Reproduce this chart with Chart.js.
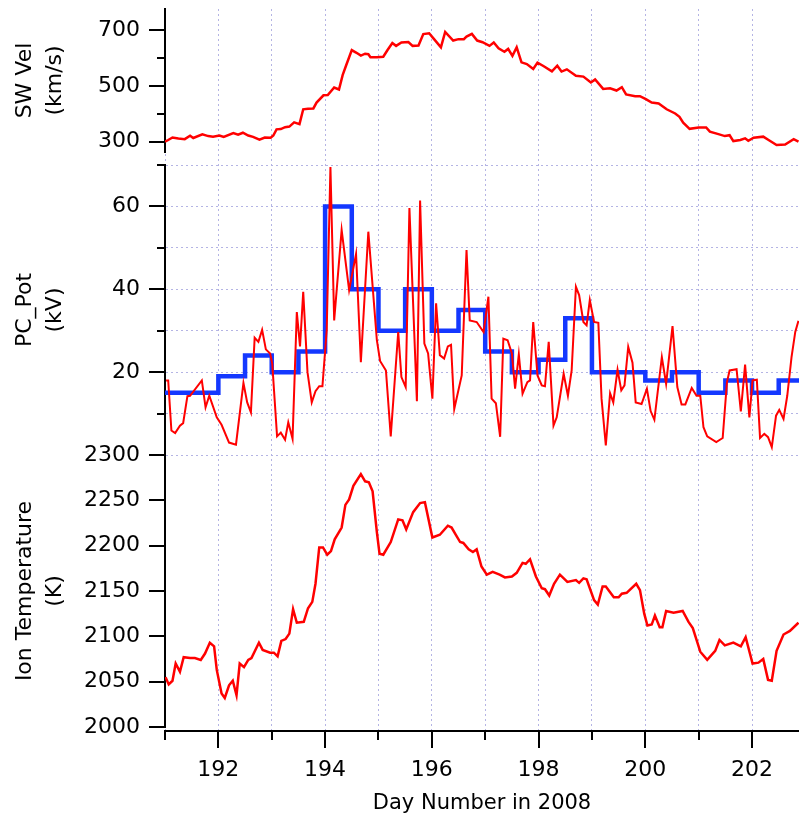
<!DOCTYPE html>
<html>
<head>
<meta charset="utf-8">
<title>SW Vel / PC_Pot / Ion Temperature</title>
<script src="https://cdn.jsdelivr.net/npm/chart.js@4.4.1/dist/chart.umd.min.js"></script>
<style>
    body { margin: 0; background: #fff; overflow: hidden; }
    canvas { display: block; }
</style>
</head>
<body>
<canvas id="chart" width="799" height="815"></canvas>
<script>
// 太阳风速度 (km/s)
const swDay = [191.00, 191.06, 191.14, 191.25, 191.37, 191.47, 191.53, 191.70, 191.81, 191.90,
    192.02, 192.10, 192.28, 192.37, 192.46, 192.56, 192.65, 192.77, 192.87, 192.98,
    193.03, 193.09, 193.17, 193.25, 193.33, 193.42, 193.52, 193.59, 193.68, 193.78,
    193.84, 193.97, 194.05, 194.17, 194.26, 194.33, 194.39, 194.50, 194.58, 194.67,
    194.75, 194.81, 194.85, 194.97, 195.09, 195.17, 195.26, 195.33, 195.43, 195.56,
    195.64, 195.75, 195.84, 195.95, 196.03, 196.17, 196.25, 196.40, 196.50, 196.60,
    196.65, 196.75, 196.85, 196.95, 197.08, 197.16, 197.25, 197.36, 197.43, 197.51,
    197.59, 197.68, 197.78, 197.90, 197.98, 198.09, 198.25, 198.35, 198.43, 198.53,
    198.70, 198.84, 198.98, 199.06, 199.21, 199.34, 199.46, 199.56, 199.64, 199.81,
    199.90, 200.01, 200.12, 200.25, 200.40, 200.56, 200.64, 200.71, 200.83, 201.00,
    201.14, 201.21, 201.37, 201.49, 201.58, 201.65, 201.78, 201.87, 201.93, 202.03,
    202.21, 202.31, 202.46, 202.62, 202.78, 202.87];
const swVel = [300, 306, 315, 311, 309, 321, 313, 326, 320, 318,
    322, 317, 331, 325, 332, 322, 317, 307, 315, 314,
    322, 344, 345, 352, 354, 369, 363, 416, 418, 419,
    440, 466, 467, 494, 487, 539, 571, 628, 619, 608,
    615, 613, 602, 602, 604, 628, 653, 643, 655, 657,
    643, 644, 685, 688, 670, 638, 693, 662, 667, 667,
    676, 686, 662, 656, 643, 655, 634, 622, 632, 607,
    638, 584, 578, 560, 583, 571, 552, 572, 551, 559,
    536, 533, 512, 523, 489, 491, 483, 495, 469, 463,
    463, 452, 440, 437, 416, 401, 389, 368, 346, 351,
    351, 336, 327, 320, 323, 302, 306, 312, 303, 314,
    318, 306, 288, 290, 309, 300];

// 极盖电位 (kV)
const pcDay = [191.02, 191.06, 191.12, 191.19, 191.28, 191.34, 191.42, 191.47, 191.69, 191.76,
    191.83, 191.97, 192.06, 192.20, 192.33, 192.47, 192.54, 192.61, 192.68, 192.75,
    192.82, 192.89, 192.97, 193.01, 193.10, 193.17, 193.25, 193.31, 193.39, 193.47,
    193.53, 193.59, 193.67, 193.75, 193.82, 193.89, 193.95, 194.03, 194.10, 194.17,
    194.31, 194.45, 194.58, 194.67, 194.81, 194.97, 195.03, 195.14, 195.23, 195.37,
    195.43, 195.51, 195.58, 195.72, 195.78, 195.86, 195.93, 196.01, 196.08, 196.15,
    196.23, 196.30, 196.36, 196.42, 196.56, 196.65, 196.71, 196.84, 196.97, 197.06,
    197.12, 197.20, 197.28, 197.34, 197.42, 197.50, 197.56, 197.63, 197.70, 197.79,
    197.84, 197.90, 197.98, 198.06, 198.12, 198.19, 198.28, 198.34, 198.47, 198.55,
    198.62, 198.70, 198.76, 198.84, 198.90, 198.96, 199.04, 199.12, 199.18, 199.26,
    199.34, 199.40, 199.48, 199.55, 199.61, 199.68, 199.76, 199.82, 199.93, 200.03,
    200.10, 200.17, 200.31, 200.39, 200.51, 200.60, 200.68, 200.75, 200.87, 200.96,
    201.03, 201.09, 201.16, 201.33, 201.45, 201.53, 201.58, 201.71, 201.79, 201.87,
    201.95, 202.01, 202.09, 202.15, 202.23, 202.30, 202.37, 202.45, 202.51, 202.59,
    202.66, 202.74, 202.81, 202.87];
const pcPot = [18, 18, 5.9, 5.3, 7.1, 7.7, 14.2, 14.3, 18, 11.5,
    14.3, 9.1, 7.3, 3.0, 2.5, 17.4, 12.7, 10.3, 28.3, 27.3,
    30.2, 25.5, 24.5, 22, 4.5, 5.4, 3.7, 7.9, 3.9, 34.5,
    26.2, 39.4, 20.0, 12.7, 15.4, 16.6, 16.6, 30.1, 69.5, 32.5,
    54.3, 39.8, 48.5, 22.4, 53.9, 27.7, 22.7, 20.4, 4.5, 29.7,
    18.8, 16.4, 59.6, 13.0, 61.4, 26.9, 24.5, 13.6, 36.6, 24.1,
    23.3, 26.2, 26.6, 11.1, 19.2, 49.5, 32.5, 32.1, 29.7, 38.2,
    13.6, 12.5, 4.4, 28.1, 27.7, 24.5, 16.0, 24.3, 14.8, 17.6,
    18.0, 32.1, 19.2, 16.8, 16.6, 27.3, 7.1, 9.1, 19.6, 14.3,
    20.4, 40.6, 38.6, 32.1, 31.3, 37.4, 32.1, 31.9, 13.6, 2.3,
    14.9, 12.7, 20.6, 15.6, 16.8, 26.1, 22.3, 12.7, 12.3, 16.0,
    10.6, 8.5, 23.6, 17.2, 31.1, 16.4, 12.2, 12.2, 16.2, 14.3,
    14.3, 6.7, 4.5, 3.1, 4.1, 17.6, 20.4, 20.7, 10.5, 21.8,
    9.1, 18.0, 18.2, 4.1, 5.1, 4.3, 1.9, 9.5, 10.9, 8.7,
    14.3, 23.6, 29.7, 32.4];

// 半天平均 (阶梯线)
const stepDay = [191.0, 191.5, 192.0, 192.5, 193.0, 193.5, 194.0, 194.5, 195.0, 195.5,
    196.0, 196.5, 197.0, 197.5, 198.0, 198.5, 199.0, 199.5, 200.0, 200.5,
    201.0, 201.5, 202.0, 202.5, 202.88];
const stepPot = [15, 15, 19, 24, 20, 25, 60, 40, 30, 40,
    30, 35, 25, 20, 23, 33, 20, 20, 18, 20,
    15, 18, 15, 18, 18];

// 离子温度 (K)
const tiDay = [191.01, 191.07, 191.14, 191.20, 191.28, 191.35, 191.47, 191.56, 191.67, 191.75,
    191.84, 191.92, 191.97, 192.06, 192.12, 192.20, 192.27, 192.34, 192.40, 192.48,
    192.56, 192.62, 192.76, 192.83, 192.97, 193.04, 193.11, 193.18, 193.26, 193.33,
    193.40, 193.47, 193.60, 193.68, 193.76, 193.82, 193.89, 193.96, 194.04, 194.11,
    194.18, 194.31, 194.38, 194.45, 194.53, 194.67, 194.75, 194.82, 194.89, 194.97,
    195.02, 195.09, 195.23, 195.37, 195.45, 195.52, 195.65, 195.78, 195.87, 196.01,
    196.15, 196.30, 196.37, 196.45, 196.53, 196.59, 196.69, 196.77, 196.84, 196.93,
    197.03, 197.14, 197.27, 197.37, 197.50, 197.59, 197.70, 197.76, 197.84, 197.95,
    198.06, 198.12, 198.20, 198.29, 198.40, 198.54, 198.70, 198.76, 198.84, 198.90,
    199.04, 199.11, 199.20, 199.26, 199.41, 199.50, 199.56, 199.65, 199.83, 199.90,
    199.98, 200.04, 200.12, 200.18, 200.27, 200.32, 200.39, 200.53, 200.70, 200.81,
    200.89, 201.03, 201.16, 201.31, 201.39, 201.49, 201.65, 201.79, 201.88, 202.01,
    202.12, 202.21, 202.30, 202.37, 202.46, 202.59, 202.71, 202.87];
const tiTemp = [2055, 2047, 2051, 2070, 2061, 2077, 2076, 2076, 2074, 2081,
    2093, 2089, 2063, 2037, 2032, 2046, 2051, 2035, 2070, 2066,
    2074, 2076, 2093, 2085, 2082, 2082, 2078, 2095, 2097, 2103,
    2130, 2115, 2116, 2131, 2138, 2158, 2198, 2198, 2190, 2194,
    2207, 2220, 2245, 2251, 2266, 2279, 2271, 2270, 2260, 2215,
    2191, 2190, 2204, 2229, 2228, 2218, 2237, 2247, 2248, 2209,
    2212, 2222, 2220, 2212, 2204, 2203, 2196, 2193, 2196, 2177,
    2168, 2171, 2168, 2165, 2166, 2170, 2181, 2180, 2185, 2166,
    2153, 2152, 2145, 2158, 2168, 2160, 2162, 2159, 2164, 2163,
    2140, 2135, 2155, 2155, 2143, 2143, 2147, 2148, 2158, 2151,
    2125, 2112, 2113, 2123, 2110, 2110, 2128, 2126, 2128, 2116,
    2109, 2083, 2074, 2084, 2096, 2090, 2093, 2089, 2099, 2070,
    2071, 2075, 2052, 2051, 2084, 2102, 2106, 2115];

// 带数字的刻度
const dayLabels = [192, 194, 196, 198, 200, 202];
const swLabels = [300, 500, 700];
const pcLabels = [20, 40, 60];
const tiLabels = [2000, 2050, 2100, 2150, 2200, 2250, 2300];

const RED = '#ff0000';
const BLUE = '#1438ff';
const GRID = '#b4b4e4';
const FONT = 'DejaVu Sans';

Chart.defaults.font.family = FONT;
Chart.defaults.color = '#000';

function toPoints(xs, ys) {
    return xs.map((x, i) => ({ x: x, y: ys[i] }));
}

// 固定坐标轴尺寸
function fixWidth(scale) {
    scale.width = 165;
    scale.paddingTop = 0;
    scale.paddingBottom = 0;
}

function labelFrom(list) {
    return value => list.includes(value) ? String(value) : '';
}

function valueAxis(min, max, step, labels, weight, stackWeight, title, grid) {
    return {
        type: 'linear',
        axis: 'y',
        position: 'left',
        stack: 'panels',
        stackWeight: stackWeight,
        weight: weight,
        min: min,
        max: max,
        afterFit: fixWidth,
        ticks: {
            stepSize: step,
            includeBounds: false,
            autoSkip: false,
            padding: 25,
            font: { size: 22 },
            callback: labelFrom(labels)
        },
        grid: grid
            ? { color: GRID, lineWidth: 1, drawTicks: false }
            : { drawOnChartArea: false, drawTicks: false },
        border: { color: '#000', width: 2, dash: [2, 3] },
        title: {
            display: true,
            text: title,
            font: { size: 22, lineHeight: 30 / 22 },
            padding: { top: 10, bottom: 0 }
        }
    };
}

function spacerAxis(weight, stackWeight) {
    return {
        type: 'linear',
        axis: 'y',
        position: 'left',
        stack: 'panels',
        stackWeight: stackWeight,
        weight: weight,
        min: 0,
        max: 1,
        afterFit: fixWidth,
        ticks: { display: false },
        grid: { display: false },
        border: { display: false }
    };
}

// 刻度线：长的带数字，短的不带
const tickMarks = {
    id: 'tickMarks',
    afterDraw(chart) {
        const ctx = chart.ctx;
        const area = chart.chartArea;
        ctx.save();
        ctx.strokeStyle = '#000';
        ctx.lineWidth = 2;
        ['x', 'ySw', 'yPc', 'yTi'].forEach(id => {
            const scale = chart.scales[id];
            scale.ticks.forEach(t => {
                const major = t.label !== '';
                const p = Math.round(scale.getPixelForValue(t.value));
                ctx.beginPath();
                if (id === 'x') {
                    ctx.moveTo(p, area.bottom);
                    ctx.lineTo(p, area.bottom + (major ? 17 : 9));
                } else {
                    ctx.moveTo(area.left, p);
                    ctx.lineTo(area.left - (major ? 16 : 8), p);
                }
                ctx.stroke();
            });
        });
        ctx.restore();
    }
};

const ctx = document.getElementById('chart').getContext('2d');
new Chart(ctx, {
    type: 'line',
    data: {
        datasets: [
            {
                label: 'SW Vel',
                data: toPoints(swDay, swVel),
                yAxisID: 'ySw',
                borderColor: RED,
                borderWidth: 2.5,
                pointRadius: 0,
                order: 0
            },
            {
                label: 'PC_Pot',
                data: toPoints(pcDay, pcPot),
                yAxisID: 'yPc',
                borderColor: RED,
                borderWidth: 2,
                pointRadius: 0,
                order: 0
            },
            {
                label: 'PC_Pot avg',
                data: toPoints(stepDay, stepPot),
                yAxisID: 'yPc',
                borderColor: BLUE,
                borderWidth: 4.5,
                pointRadius: 0,
                stepped: 'before',
                order: 1
            },
            {
                label: 'Ion Temperature',
                data: toPoints(tiDay, tiTemp),
                yAxisID: 'yTi',
                borderColor: RED,
                borderWidth: 2.5,
                pointRadius: 0,
                order: 0
            }
        ]
    },
    options: {
        responsive: false,
        animation: false,
        devicePixelRatio: 1,
        layout: { padding: { top: 9, left: 0, right: 0, bottom: 0 } },
        plugins: {
            legend: { display: false },
            tooltip: { enabled: false }
        },
        scales: {
            x: {
                type: 'linear',
                position: 'bottom',
                min: 191,
                max: 202.88,
                afterFit(scale) {
                    scale.height = 84;
                    scale.paddingLeft = 0;
                    scale.paddingRight = 0;
                },
                ticks: {
                    stepSize: 1,
                    includeBounds: false,
                    autoSkip: false,
                    maxRotation: 0,
                    padding: 26,
                    font: { size: 22 },
                    callback: labelFrom(dayLabels)
                },
                grid: { color: GRID, lineWidth: 1, drawTicks: false },
                border: { color: '#000', width: 2, dash: [2, 3] },
                title: {
                    display: true,
                    text: 'Day Number in 2008',
                    font: { size: 21, lineHeight: 1 },
                    padding: { top: 0, bottom: 1 }
                }
            },
            ySw: valueAxis(263, 775, 100, swLabels, 5, 143, ['SW Vel', '(km/s)'], false),
            gap1: spacerAxis(4, 13),
            yPc: valueAxis(0, 70, 10, pcLabels, 3, 290, ['PC_Pot', '(kV)'], true),
            yTi: valueAxis(2000, 2300, 50, tiLabels, 2, 272, ['Ion Temperature', '(K)'], false),
            gap2: spacerAxis(1, 4)
        }
    },
    plugins: [tickMarks]
});
</script>
</body>
</html>
